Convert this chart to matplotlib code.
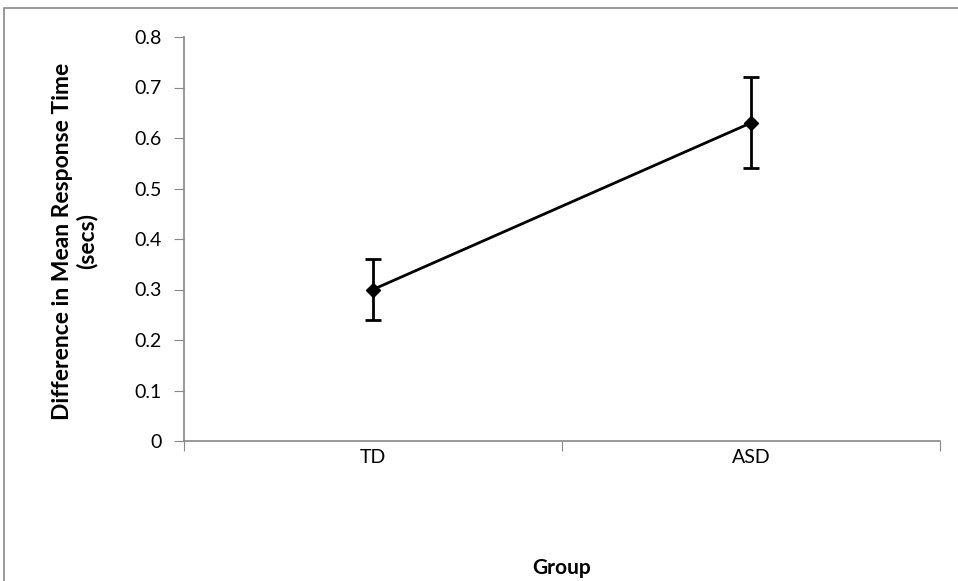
import matplotlib.pyplot as plt
from matplotlib.patches import Rectangle

groups = ["TD", "ASD"]
means = [0.30, 0.63]
err_low = [0.06, 0.09]
err_high = [0.06, 0.09]
y_ticks = [0, 0.1, 0.2, 0.3, 0.4, 0.5, 0.6, 0.7, 0.8]

plt.rcParams['font.family'] = ['Lato', 'DejaVu Sans']

fig = plt.figure(figsize=(9.58, 5.81), dpi=100)
ax = fig.add_axes([184 / 958, 1 - 441 / 581, (940 - 184) / 958, (441 - 37) / 581])

# outer chart border (only top and left visible in the crop)
fig.patches.append(Rectangle((4 / 958, -0.1), 1.2, 1 - 8 / 581 + 0.1,
                             transform=fig.transFigure, fill=False,
                             edgecolor='#888888', linewidth=1.2))

x = [0.5, 1.5]
ax.errorbar(x, means, yerr=[err_low, err_high], color='black', linewidth=2,
            marker='D', markersize=7, capsize=6, capthick=2, elinewidth=2)

ax.set_xlim(0, 2)
ax.set_ylim(0, 0.8)
ax.set_yticks(y_ticks)
ax.set_yticklabels([f"{v:g}" for v in y_ticks])
ax.set_xticks([0, 1, 2])
ax.set_xticklabels([])
ax.set_xticks(x, minor=True)
ax.set_xticklabels(groups, minor=True)
ax.tick_params(axis='x', which='minor', length=0, pad=6, labelsize=14)
ax.tick_params(axis='x', which='major', length=7, color='#888888', direction='out')
ax.tick_params(axis='y', length=7, color='#888888', direction='out', labelsize=14, pad=9)

for s in ['top', 'right']:
    ax.spines[s].set_visible(False)
for s in ['left', 'bottom']:
    ax.spines[s].set_color('#888888')
    ax.spines[s].set_linewidth(1.2)

ax.set_ylabel("Difference in Mean Response Time\n(secs)", fontsize=16.5,
              fontweight='bold', linespacing=1.15)
ax.yaxis.set_label_coords(-0.115, 0.495)
ax.set_xlabel("Group", fontsize=15, fontweight='bold', labelpad=66)

fig.savefig("out.png", dpi=100)
